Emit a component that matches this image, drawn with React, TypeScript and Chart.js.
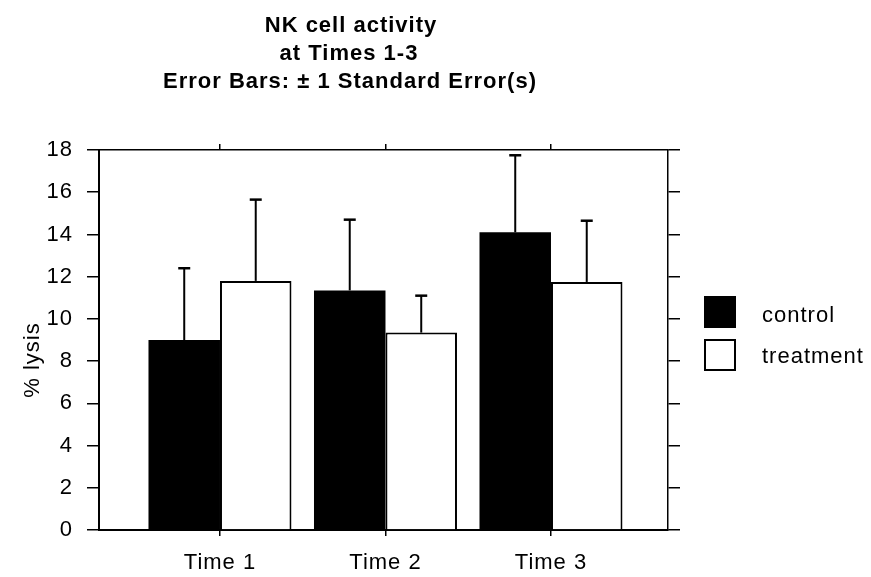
import React, { useEffect, useRef } from 'react';
import { Chart, registerables } from 'chart.js';

Chart.register(...registerables);

const categories = ['Time 1', 'Time 2', 'Time 3'];
const seriesNames = ['control', 'treatment'];
const controlValues = [9.0, 11.35, 14.1];
const controlSE = [3.4, 3.35, 3.65];
const treatmentValues = [11.8, 9.35, 11.75];
const treatmentSE = [3.85, 1.75, 2.9];
const titleLines = ['NK cell activity', 'at Times 1-3', 'Error Bars: \u00B1 1 Standard Error(s)'];
const yAxisLabel = '% lysis';
const yMin = 0;
const yMax = 18;
const yStep = 2;

const FONT = '"Liberation Sans", Arial, Helvetica, sans-serif';
const xMin = 0.269;
const xMax = 3.707;

const catTicks = (s: any) => {
  s.ticks = categories.map((_, i) => ({ value: i + 1 }));
};

const spacingPlugin = {
  id: 'spacing',
  beforeInit(chart: any) {
    chart.ctx.letterSpacing = '1px';
  },
  beforeUpdate(chart: any) {
    chart.ctx.letterSpacing = '1px';
  },
  beforeDraw(chart: any) {
    chart.ctx.letterSpacing = '1px';
  },
};

const errorBarPlugin = {
  id: 'errorBars',
  afterDatasetsDraw(chart: any) {
    const ctx = chart.ctx;
    const yScale = chart.scales.y;
    const sets = [
      { v: controlValues, e: controlSE },
      { v: treatmentValues, e: treatmentSE },
    ];
    ctx.save();
    ctx.strokeStyle = '#000';
    sets.forEach((s, d) => {
      const meta = chart.getDatasetMeta(d);
      meta.data.forEach((bar: any, i: number) => {
        const x = bar.x;
        const top = yScale.getPixelForValue(s.v[i]);
        const yErr = yScale.getPixelForValue(s.v[i] + s.e[i]);
        ctx.lineWidth = 2;
        ctx.beginPath();
        ctx.moveTo(x, top);
        ctx.lineTo(x, yErr);
        ctx.stroke();
        ctx.lineWidth = 2.5;
        ctx.beginPath();
        ctx.moveTo(x - 6, yErr);
        ctx.lineTo(x + 6, yErr);
        ctx.stroke();
      });
    });
    ctx.restore();
  },
};

const decorPlugin = {
  id: 'decor',
  afterDraw(chart: any) {
    const ctx = chart.ctx;
    ctx.save();
    ctx.fillStyle = '#000';
    // title
    ctx.letterSpacing = '1px';
    ctx.font = `bold 22px ${FONT}`;
    ctx.textBaseline = 'alphabetic';
    ctx.textAlign = 'center';
    ctx.fillText(titleLines[0], 343, 24);
    ctx.fillText(titleLines[1], 341, 52);
    ctx.fillText(titleLines[2], 342, 80);
    // y axis label
    ctx.letterSpacing = '1px';
    ctx.font = `22px ${FONT}`;
    ctx.save();
    ctx.translate(25, 352);
    ctx.rotate(-Math.PI / 2);
    ctx.textAlign = 'center';
    ctx.textBaseline = 'middle';
    ctx.fillText(yAxisLabel, 0, 0);
    ctx.restore();
    // legend
    ctx.fillStyle = '#000';
    ctx.fillRect(696, 288, 32, 32);
    ctx.fillStyle = '#fff';
    ctx.fillRect(697, 332, 30, 30);
    ctx.strokeStyle = '#000';
    ctx.lineWidth = 2;
    ctx.strokeRect(697, 332, 30, 30);
    ctx.fillStyle = '#000';
    ctx.textAlign = 'left';
    ctx.textBaseline = 'alphabetic';
    ctx.fillText(seriesNames[0], 754, 314);
    ctx.fillText(seriesNames[1], 754, 355);
    ctx.restore();
  },
};

export default function App() {
  const ref = useRef<HTMLCanvasElement | null>(null);
  useEffect(() => {
    if (!ref.current) return;
    const tickFont = { family: FONT, size: 22 };
    const chart = new Chart(ref.current, {
      type: 'bar',
      data: {
        datasets: [
          {
            label: seriesNames[0],
            data: controlValues.map((v, i) => ({ x: i + 1, y: v })),
            backgroundColor: '#000',
            borderWidth: 0,
            categoryPercentage: 0.864,
            barPercentage: 1,
          },
          {
            label: seriesNames[1],
            data: treatmentValues.map((v, i) => ({ x: i + 1, y: v })),
            backgroundColor: '#fff',
            borderColor: '#000',
            borderWidth: 2,
            categoryPercentage: 0.864,
            barPercentage: 1,
          },
        ],
      },
      options: {
        animation: false,
        responsive: true,
        maintainAspectRatio: false,
        layout: { padding: 0 },
        plugins: {
          legend: { display: false },
          title: { display: false },
          tooltip: { enabled: false },
        },
        scales: {
          x: {
            type: 'linear',
            position: 'bottom',
            min: xMin,
            max: xMax,
            bounds: 'data',
            offset: false,
            afterBuildTicks: catTicks,
            afterFit: (s: any) => { s.height = 47; },
            grid: { offset: false, drawOnChartArea: false, drawTicks: true, tickLength: 6, color: '#000', lineWidth: 1.5 },
            border: { color: '#000', width: 2 },
            ticks: {
              callback: (v: any) => categories[Math.round(v) - 1] ?? '',
              font: tickFont,
              color: '#000',
              padding: 14,
              maxRotation: 0,
              autoSkip: false,
            },
          },
          x2: {
            type: 'linear',
            position: 'top',
            min: xMin,
            max: xMax,
            bounds: 'data',
            offset: false,
            afterBuildTicks: catTicks,
            afterFit: (s: any) => { s.height = 142; },
            grid: { offset: false, drawOnChartArea: false, drawTicks: true, tickLength: 6, color: '#000', lineWidth: 1.5 },
            border: { color: '#000', width: 1.5 },
            ticks: { display: false },
          },
          y: {
            type: 'linear',
            position: 'left',
            min: yMin,
            max: yMax,
            afterFit: (s: any) => { s.width = 91; },
            grid: { drawOnChartArea: false, drawTicks: true, tickLength: 12, color: '#000', lineWidth: 1.5 },
            border: { color: '#000', width: 2 },
            ticks: { stepSize: yStep, font: tickFont, color: '#000', padding: 14 },
          },
          y2: {
            type: 'linear',
            position: 'right',
            min: yMin,
            max: yMax,
            afterFit: (s: any) => { s.width = 195; },
            grid: { drawOnChartArea: false, drawTicks: true, tickLength: 12, color: '#000', lineWidth: 1.5 },
            border: { color: '#000', width: 1.5 },
            ticks: { stepSize: yStep, display: false },
          },
        },
      } as any,
      plugins: [spacingPlugin, errorBarPlugin, decorPlugin],
    });
    return () => chart.destroy();
  }, []);
  return (
    <div style={{ position: 'relative', width: 855, height: 569 }}>
      <canvas ref={ref} />
    </div>
  );
}
